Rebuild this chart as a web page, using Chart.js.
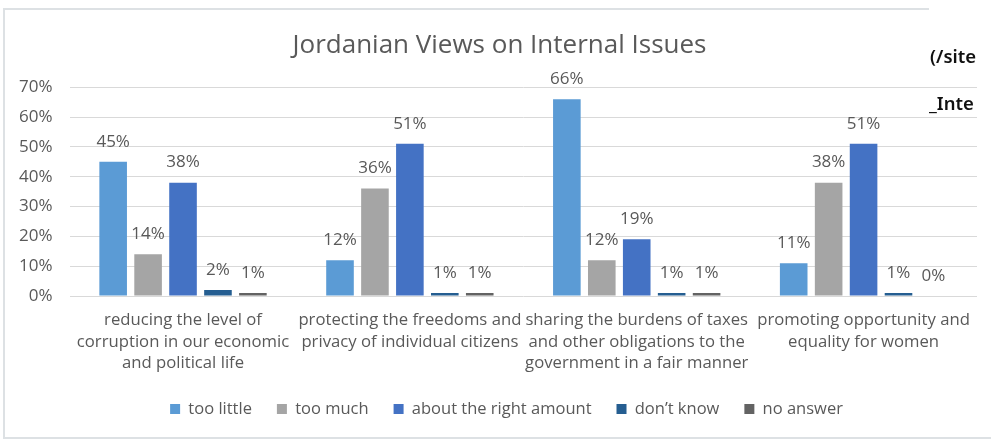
<!DOCTYPE html>
<html>
<head>
<meta charset="utf-8">
<script src="https://cdn.jsdelivr.net/npm/chart.js@4"></script>
<style>
  html, body { margin: 0; padding: 0; background: #fff; }
  #wrap { position: relative; width: 991px; height: 443px; overflow: hidden; }
  #frame { position: absolute; left: 3px; top: 8px; width: 1000px; height: 427px; border: 2px solid #dde1e4; box-sizing: content-box; }
  #cover { position: absolute; left: 929px; top: 0px; width: 62px; height: 20px; background: #fff; }
  #chartBox { position: absolute; left: 0; top: 0; width: 991px; height: 443px; }
  .side { position: absolute; font-family: "Noto Sans", sans-serif; font-weight: 600; font-size: 18.5px; color: #111; white-space: nowrap; }
</style>
</head>
<body>
<div id="wrap">
  <div id="frame"></div>
  <div id="chartBox"><canvas id="c"></canvas></div>
  <div id="cover"></div>
  <div class="side" style="left:930px; top:43px;">(/site</div>
  <div class="side" style="left:929px; top:90px;">_Inte</div>
</div>
<script>
const categories = [
  ["reducing the level of", "corruption in our economic", "and political life"],
  ["protecting the freedoms and", "privacy of individual citizens"],
  ["sharing the burdens of taxes", "and other obligations to the", "government in a fair manner"],
  ["promoting opportunity and", "equality for women"]
];
const seriesNames = ["too little", "too much", "about the right amount", "don\u2019t know", "no answer"];
const tooLittle = [45, 12, 66, 11];
const tooMuch = [14, 36, 12, 38];
const aboutRight = [38, 51, 19, 51];
const dontKnow = [2, 1, 1, 1];
const noAnswer = [1, 1, 1, 0];
const seriesColors = ["#5b9bd5", "#a5a5a5", "#4472c4", "#255e91", "#636363"];
const yTickValues = [0, 10, 20, 30, 40, 50, 60, 70];

const FONT = "'Open Sans', 'Liberation Sans', sans-serif";
const TEXT = "#595959";

const valueLabels = {
  id: "valueLabels",
  afterDatasetsDraw(chart) {
    const ctx = chart.ctx;
    ctx.save();
    ctx.font = "17px " + FONT;
    ctx.fillStyle = TEXT;
    ctx.textAlign = "center";
    ctx.textBaseline = "middle";
    chart.data.datasets.forEach((ds, i) => {
      const meta = chart.getDatasetMeta(i);
      meta.data.forEach((el, j) => {
        ctx.fillText(ds.data[j] + "%", el.x, el.y - 20);
      });
    });
    ctx.restore();
  }
};

// the source centres its title and legend slightly right of the canvas middle
const boxShift = {
  id: "boxShift",
  afterLayout(chart) {
    const t = chart.titleBlock;
    if (t) { t.left += 11; t.right += 11; }
    const l = chart.legend;
    if (l) { l.left += 18; l.right += 18; }
  }
};

const allSeries = [tooLittle, tooMuch, aboutRight, dontKnow, noAnswer];
new Chart(document.getElementById("c"), {
  type: "bar",
  data: {
    labels: categories,
    datasets: allSeries.map((d, i) => ({
      label: seriesNames[i],
      data: d,
      backgroundColor: seriesColors[i],
      categoryPercentage: 0.77,
      barPercentage: 0.79
    }))
  },
  options: {
    responsive: true,
    maintainAspectRatio: false,
    animation: false,
    events: [],
    layout: { padding: { top: 29.5, left: 0, right: 14, bottom: 15.75 } },
    plugins: {
      title: {
        display: true,
        text: "Jordanian Views on Internal Issues",
        color: TEXT,
        font: { family: FONT, size: 26, weight: "normal", lineHeight: 1.2 },
        padding: { top: 0, bottom: 26.5 }
      },
      legend: {
        position: "bottom",
        labels: {
          color: TEXT,
          font: { family: FONT, size: 16.5 },
          boxWidth: 10,
          boxHeight: 10,
          padding: 25
        }
      },
      tooltip: { enabled: false }
    },
    scales: {
      x: {
        grid: { display: false, drawTicks: false },
        border: { display: false },
        ticks: { color: TEXT, font: { family: FONT, size: 16.7, lineHeight: 1.31 }, padding: 13, maxRotation: 0, autoSkip: false },
        afterFit(s) { s.height = 79.75; }
      },
      y: {
        min: 0,
        max: 70,
        afterBuildTicks(s) { s.ticks = yTickValues.map(v => ({ value: v })); },
        grid: { color: "#d9d9d9", lineWidth: 1, drawTicks: false },
        border: { display: false },
        ticks: { color: TEXT, font: { family: FONT, size: 17 }, padding: 17, callback: v => v + "%" },
        afterFit(s) { s.width = 69.6; }
      }
    }
  },
  plugins: [valueLabels, boxShift]
});
</script>
</body>
</html>
